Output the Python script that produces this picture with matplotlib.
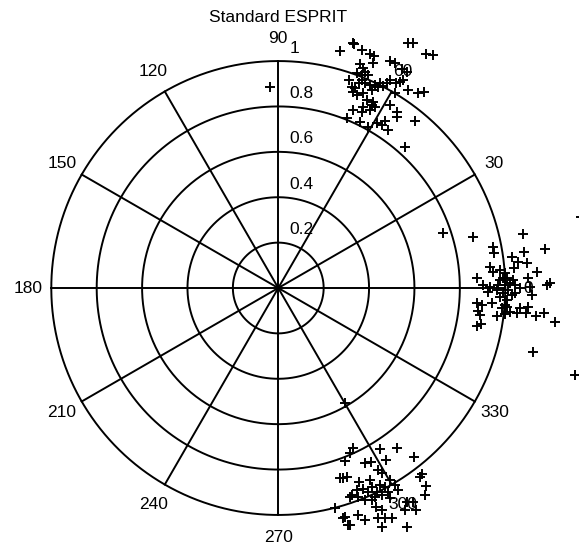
import matplotlib
matplotlib.use("Agg")
import matplotlib.pyplot as plt
import numpy as np

plt.rcParams["font.family"] = ["Liberation Sans", "DejaVu Sans"]

re_60 = [0.272, 0.333, 0.369, 0.404, 0.422, 0.417, 0.571, 0.593, 0.651, 0.681,
         0.492, 0.514, 0.545, 0.567, 0.360, 0.347, 0.369, 0.382, 0.395, 0.311,
         0.325, 0.329, 0.356, 0.382, 0.404, 0.426, 0.439, 0.461, 0.479, 0.492,
         0.519, 0.536, 0.514, 0.571, 0.615, 0.642, 0.373, 0.391, 0.417, 0.413,
         0.373, 0.329, 0.369, 0.404, 0.426, 0.492, 0.523, 0.523, 0.303, 0.360,
         0.395, 0.435, 0.457, 0.470, 0.483, 0.602, 0.558, 0.549, 0.329, 0.338,
         -0.037, 0.369, 0.413, 0.448, 0.347, 0.373]
im_60 = [1.044, 1.075, 1.048, 1.031, 1.022, 0.991, 1.079, 1.079, 1.031, 1.026,
         1.000, 0.991, 0.965, 0.952, 0.987, 0.947, 0.938, 0.952, 0.938, 0.916,
         0.885, 0.863, 0.903, 0.903, 0.894, 0.894, 0.885, 0.890, 0.903, 0.916,
         0.903, 0.907, 0.859, 0.872, 0.859, 0.863, 0.859, 0.828, 0.819, 0.806,
         0.797, 0.784, 0.775, 0.784, 0.797, 0.806, 0.775, 0.753, 0.749, 0.731,
         0.709, 0.727, 0.718, 0.736, 0.696, 0.736, 0.621, 0.916, 1.079, 0.881,
         0.885, 0.916, 0.872, 0.903, 0.850, 0.969]

re_0 = [0.726, 0.858, 1.078, 1.175, 0.946, 0.950, 1.082, 1.030, 1.056, 1.096,
        0.933, 0.946, 1.038, 0.999, 1.140, 0.875, 1.007, 1.034, 1.100, 1.197,
        1.184, 0.902, 0.933, 0.968, 0.999, 1.065, 1.109, 1.118, 0.924, 0.977,
        1.007, 1.043, 0.875, 0.897, 0.941, 1.007, 0.985, 1.065, 1.100, 0.880,
        0.889, 0.963, 0.999, 1.021, 1.052, 1.091, 1.135, 1.170, 1.219, 0.875,
        0.893, 1.122, 1.307, 1.333, 0.977, 1.012, 0.990, 1.021, 0.990, 0.963,
        1.030, 0.999, 0.977, 1.043]
im_0 = [0.242, 0.225, 0.238, 0.172, 0.181, 0.154, 0.159, 0.137, 0.115, 0.110,
        0.093, 0.070, 0.088, 0.066, 0.070, 0.044, 0.044, 0.035, 0.044, 0.022,
        0.013, 0.013, 0.004, 0.013, 0.013, 0.000, 0.004, -0.031, -0.018, -0.040,
        -0.053, -0.022, -0.066, -0.075, -0.066, -0.084, -0.088, -0.088, -0.084, -0.101,
        -0.119, -0.123, -0.115, -0.106, -0.110, -0.110, -0.123, -0.110, -0.150, -0.167,
        -0.159, -0.282, -0.383, 0.313, 0.035, -0.009, -0.022, 0.022, 0.044, -0.009,
        -0.031, -0.075, 0.079, 0.013]

re_300 = [0.294, 0.329, 0.316, 0.294, 0.448, 0.523, 0.598, 0.382, 0.408, 0.474,
          0.439, 0.457, 0.285, 0.356, 0.404, 0.492, 0.514, 0.624, 0.633, 0.651,
          0.347, 0.373, 0.413, 0.435, 0.470, 0.527, 0.316, 0.382, 0.426, 0.457,
          0.492, 0.646, 0.250, 0.430, 0.457, 0.567, 0.593, 0.607, 0.558, 0.294,
          0.351, 0.382, 0.316, 0.439, 0.470, 0.501, 0.567, 0.457, 0.271, 0.302,
          0.325, 0.285, 0.307, 0.395, 0.448, 0.351, 0.483, 0.413]
im_300 = [-0.507, -0.705, -0.727, -0.762, -0.709, -0.705, -0.744, -0.771, -0.767, -0.758,
          -0.802, -0.815, -0.837, -0.855, -0.846, -0.846, -0.868, -0.833, -0.819, -0.872,
          -0.890, -0.885, -0.877, -0.899, -0.877, -0.890, -0.921, -0.934, -0.921, -0.912,
          -0.925, -0.912, -0.969, -0.965, -0.978, -0.943, -0.943, -0.978, -0.978, -1.009,
          -1.000, -1.022, -1.044, -1.013, -1.013, -1.013, -1.053, -1.053, -0.837, -0.833,
          -0.912, -1.013, -1.044, -0.899, -0.868, -0.921, -0.899, -0.934]

rings = [0.2, 0.4, 0.6, 0.8, 1.0]
ring_labels = ["0.2", "0.4", "0.6", "0.8", "1"]
spoke_angles = [0, 30, 60, 90, 120, 150, 180, 210, 240, 270, 300, 330]

fig = plt.figure(figsize=(5.79, 5.49), dpi=100)
ax = fig.add_axes([0, 0, 1, 1])
ax.set_xlim(-1.226, 1.325)
ax.set_ylim(-1.150, 1.269)
ax.axis("off")

lw = 1.4
t = np.linspace(0, 2 * np.pi, 400)
for r, lab in zip(rings, ring_labels):
    ax.plot(r * np.cos(t), r * np.sin(t), color="black", lw=lw)
    ax.text(0.05, r + 0.057, lab, ha="left", va="center", fontsize=12.5)

for a in spoke_angles[:6]:
    th = np.deg2rad(a)
    ax.plot([-np.cos(th), np.cos(th)], [-np.sin(th), np.sin(th)],
            color="black", lw=lw)

for a in spoke_angles:
    th = np.deg2rad(a)
    ax.text(1.1 * np.cos(th), 1.1 * np.sin(th), str(a),
            ha="center", va="center", fontsize=12.5)

for re, im in [(re_60, im_60), (re_0, im_0), (re_300, im_300)]:
    ax.plot(re, im, "+", color="black", ms=7.5, mew=1.4, clip_on=False)

ax.text(0, 1.194, "Standard ESPRIT", ha="center", va="center", fontsize=12.5)

fig.savefig("out.png", dpi=100)
